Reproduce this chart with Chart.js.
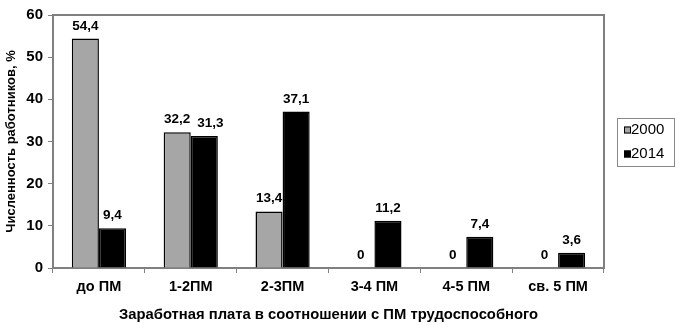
<!DOCTYPE html>
<html>
<head>
<meta charset="utf-8">
<script src="https://cdn.jsdelivr.net/npm/chart.js@4"></script>
<style>
  html, body { margin: 0; padding: 0; background: #fff; }
  #wrap { width: 681px; height: 325px; position: relative; }
</style>
</head>
<body>
<div id="wrap"><canvas id="salaryChart"></canvas></div>
<script>
const categories = ['до ПМ', '1-2ПМ', '2-3ПМ', '3-4 ПМ', '4-5 ПМ', 'св. 5 ПМ'];
const values2000 = [54.4, 32.2, 13.4, 0, 0, 0];
const values2014 = [9.4, 31.3, 37.1, 11.2, 7.4, 3.6];
const seriesLabels = ['2000', '2014'];
const yTicks = [0, 10, 20, 30, 40, 50, 60];

const FONT = '"Liberation Sans", Arial, sans-serif';

// value labels above bars (second label nudged right if it would collide)
const barLabels = {
    id: 'barLabels',
    afterDatasetsDraw(chart) {
        const ctx = chart.ctx;
        ctx.save();
        ctx.font = 'bold 13.5px ' + FONT;
        ctx.fillStyle = '#000';
        ctx.textAlign = 'center';
        ctx.textBaseline = 'alphabetic';
        const m0 = chart.getDatasetMeta(0).data;
        const m1 = chart.getDatasetMeta(1).data;
        const fmt = v => String(v).replace('.', ',');
        categories.forEach((c, i) => {
            const t0 = fmt(values2000[i]), t1 = fmt(values2014[i]);
            const w0 = ctx.measureText(t0).width, w1 = ctx.measureText(t1).width;
            const b0 = m0[i], b1 = m1[i];
            let x1 = b1.x;
            const right0 = b0.x + w0 / 2;
            if (Math.abs(b0.y - b1.y) < 16 && x1 - w1 / 2 < right0 + 7) {
                x1 = right0 + 7 + w1 / 2;
            }
            ctx.fillText(t0, b0.x, b0.y - 9);
            ctx.fillText(t1, x1, b1.y - 9);
        });
        ctx.restore();
    }
};

// grey frame on top/right and a legend box
const frameAndLegend = {
    id: 'frameAndLegend',
    afterDraw(chart) {
        const ctx = chart.ctx;
        const a = chart.chartArea;
        ctx.save();
        ctx.strokeStyle = '#808080';
        ctx.lineWidth = 2;
        ctx.beginPath();
        ctx.moveTo(a.left, a.top);
        ctx.lineTo(a.right, a.top);
        ctx.lineTo(a.right, a.bottom);
        ctx.stroke();

        // legend
        ctx.lineWidth = 1;
        ctx.strokeStyle = '#888';
        ctx.strokeRect(617.5, 118.5, 57, 48);
        ctx.font = '15px ' + FONT;
        ctx.textBaseline = 'middle';
        ctx.textAlign = 'left';
        chart.data.datasets.forEach((ds, i) => {
            const y = 130 + i * 24;
            ctx.fillStyle = ds.backgroundColor;
            ctx.fillRect(624, y - 3.5, 7, 7);
            ctx.strokeStyle = '#000';
            ctx.strokeRect(624.5, y - 3, 6, 6);
            ctx.fillStyle = '#000';
            ctx.fillText(ds.label, 631, y);
        });
        ctx.restore();
    }
};

new Chart(document.getElementById('salaryChart').getContext('2d'), {
    type: 'bar',
    data: {
        labels: categories,
        datasets: [{
            label: seriesLabels[0],
            data: values2000,
            backgroundColor: '#a6a6a6',
            borderColor: '#000',
            borderWidth: 1.5
        }, {
            label: seriesLabels[1],
            data: values2014,
            backgroundColor: '#000',
            borderColor: '#000',
            borderWidth: 1.5
        }]
    },
    options: {
        responsive: true,
        maintainAspectRatio: false,
        animation: false,
        layout: { padding: { left: 0, right: 77, top: 15, bottom: 0 } },
        plugins: {
            legend: { display: false },
            tooltip: { enabled: false }
        },
        datasets: {
            bar: { categoryPercentage: 0.59, barPercentage: 1.0 }
        },
        scales: {
            x: {
                afterFit: s => { s.height = 57; },
                grid: {
                    drawOnChartArea: false,
                    drawTicks: true,
                    tickLength: 5,
                    color: '#808080',
                    lineWidth: 1
                },
                border: { color: '#808080', width: 2 },
                ticks: {
                    color: '#000',
                    font: { family: FONT, size: 14.5, weight: 'bold' },
                    padding: 5,
                    maxRotation: 0
                },
                title: {
                    display: true,
                    text: 'Заработная плата в соотношении с ПМ трудоспособного',
                    color: '#000',
                    font: { family: FONT, size: 14.8, weight: 'bold' },
                    padding: { top: 4, bottom: 1 }
                }
            },
            y: {
                min: 0,
                max: 60,
                afterFit: s => { s.width = 53; },
                afterBuildTicks: s => { s.ticks = yTicks.map(v => ({ value: v })); },
                grid: {
                    drawOnChartArea: false,
                    drawTicks: true,
                    tickLength: 5,
                    color: '#808080'
                },
                border: { color: '#808080', width: 2 },
                ticks: {
                    color: '#000',
                    font: { family: FONT, size: 15, weight: 'bold' },
                    padding: 5
                },
                title: {
                    display: true,
                    text: 'Численность работников, %',
                    color: '#000',
                    font: { family: FONT, size: 13, weight: 'bold' },
                    padding: { top: 4, bottom: 0 }
                }
            }
        }
    },
    plugins: [barLabels, frameAndLegend]
});
</script>
</body>
</html>
